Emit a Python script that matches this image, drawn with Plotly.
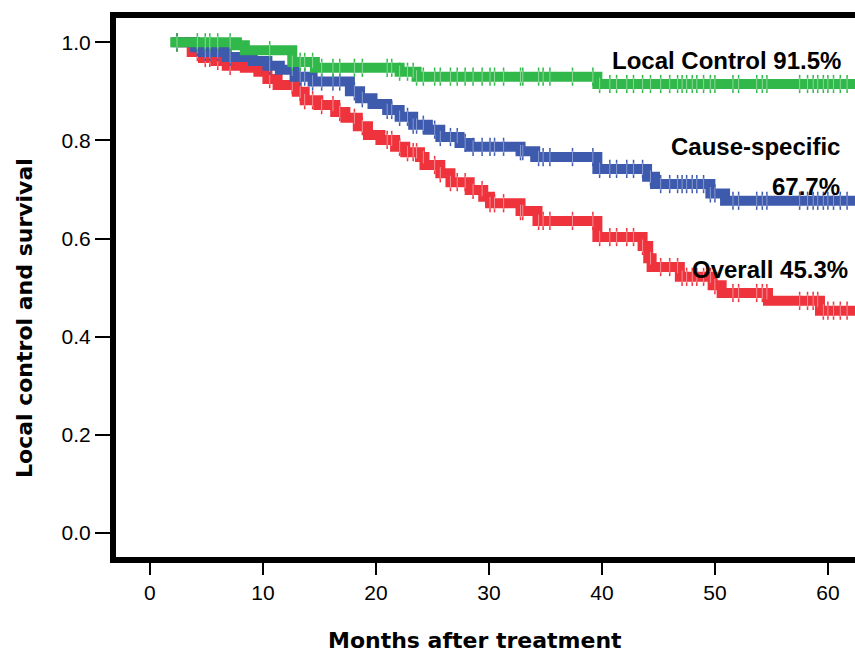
import numpy as np
import plotly.graph_objects as go

# ---- data (months, survival fraction) ----
lc_time = [1.8, 7.7, 8.4, 12.6, 14.6, 22.1, 23.6, 39.6, 63.0]
lc_surv = [1.0, 0.994, 0.984, 0.96, 0.948, 0.94, 0.93, 0.915, 0.915]

cs_time = [1.9, 4.0, 4.7, 6.8, 9.1, 10.4, 11.5, 12.8, 14.4, 17.7, 18.6, 19.7, 21.0,
           22.1, 23.3, 24.6, 25.7, 27.4, 28.3, 32.8, 34.1, 39.6, 44.0, 44.7, 49.6, 50.9, 63.0]
cs_surv = [1.0, 0.99, 0.98, 0.97, 0.962, 0.952, 0.944, 0.93, 0.92, 0.90, 0.886, 0.874, 0.862,
           0.848, 0.832, 0.822, 0.807, 0.795, 0.787, 0.778, 0.766, 0.742, 0.726, 0.711, 0.692, 0.677, 0.677]

os_time = [2.4, 3.7, 4.7, 5.8, 6.8, 8.4, 9.6, 10.4, 11.3, 13.0, 13.7, 14.9, 16.4, 17.3,
           18.4, 19.3, 20.4, 21.7, 22.6, 23.9, 24.3, 25.7, 26.6, 28.3, 29.5, 30.1, 32.8,
           34.3, 39.6, 43.6, 44.1, 44.4, 46.9, 49.8, 50.6, 54.7, 59.3, 63.0]
os_surv = [1.0, 0.98, 0.968, 0.962, 0.952, 0.948, 0.94, 0.925, 0.913, 0.899, 0.882, 0.872,
           0.858, 0.846, 0.829, 0.811, 0.801, 0.787, 0.776, 0.766, 0.75, 0.733, 0.715, 0.699,
           0.685, 0.672, 0.656, 0.636, 0.603, 0.585, 0.56, 0.542, 0.522, 0.505, 0.489, 0.473,
           0.453, 0.453]

censor_time = [2.4, 4.2, 4.9, 5.3, 6.0, 7.1, 10.6, 12.6, 13.3, 13.7, 14.4, 15.2, 16.2, 16.8,
               18.1, 18.8, 21.0, 21.4, 22.1, 22.8, 23.3, 23.6, 24.2, 25.2, 25.7, 26.6, 27.2,
               27.9, 28.6, 29.4, 30.1, 30.5, 31.3, 32.8, 33.0, 34.4, 34.8, 35.4, 37.4, 39.2,
               39.8, 40.7, 41.3, 42.2, 42.8, 43.6, 44.3, 45.2, 46.0, 46.7, 47.1, 47.5, 48.0,
               48.4, 49.0, 49.6, 50.0, 51.6, 52.1, 53.7, 54.2, 54.6, 57.5, 58.2, 58.7, 59.1,
               59.6, 60.0, 60.5, 61.1, 61.7]

labels = ["Overall", "Cause-specific", "Local Control"]
colors = ["#ee333d", "#3e5aad", "#30b84a"]
mark_colors = ["rgba(250,150,155,0.9)", "rgba(140,160,215,0.9)", "rgba(150,220,160,0.9)"]
x_ticks = [0, 10, 20, 30, 40, 50, 60]
y_ticks = [0.0, 0.2, 0.4, 0.6, 0.8, 1.0]
y_ticktext = ["0.0", "0.2", "0.4", "0.6", "0.8", "1.0"]

series = [(os_time, os_surv), (cs_time, cs_surv), (lc_time, lc_surv)]


def step_value(t, times, surv):
    idx = np.searchsorted(np.array(times), t, side="right") - 1
    return surv[max(idx, 0)]


fig = go.Figure()
for (times, surv), name, col, mcol in zip(series, labels, colors, mark_colors):
    ct = [c for c in censor_time if c >= times[0]]
    cy = [step_value(c, times, surv) for c in ct]
    # outer tips of the censor marks (series colour)
    fig.add_trace(go.Scatter(x=ct, y=cy, mode="markers",
                             marker=dict(symbol="line-ns", size=13,
                                         line=dict(color=col, width=1.5)),
                             showlegend=False, hoverinfo="skip"))
    fig.add_trace(go.Scatter(x=times, y=surv, mode="lines", line_shape="hv",
                             line=dict(color=col, width=10), name=name,
                             showlegend=False, hoverinfo="skip"))
    # pale inner part of the censor marks
    fig.add_trace(go.Scatter(x=ct, y=cy, mode="markers",
                             marker=dict(symbol="line-ns", size=9,
                                         line=dict(color=mcol, width=1)),
                             showlegend=False, hoverinfo="skip"))

ann_font = dict(family="Liberation Sans, Arial, sans-serif", size=24, color="black")
anns = [
    ("<b>Local Control 91.5%</b>", 61.35, 0.962),
    ("<b>Cause-specific</b>", 61.27, 0.787),
    ("<b>67.7%</b>", 61.27, 0.707),
    ("<b>Overall 45.3%</b>", 61.97, 0.536),
]
for txt, x, y in anns:
    fig.add_annotation(text=txt, x=x, y=y, xref="x", yref="y", xanchor="right",
                       yanchor="middle", showarrow=False, font=ann_font)

title_font = dict(family="DejaVu Sans, sans-serif", size=22, color="black")
fig.add_annotation(text="<b>Months after treatment</b>", xref="paper", yref="paper",
                   x=(475 - 116) / 739, y=-(640 - 557) / 539, xanchor="center",
                   yanchor="middle", showarrow=False, font=title_font)
fig.add_annotation(text="<b>Local control and survival</b>", xref="paper", yref="paper",
                   x=-(116 - 25) / 739, y=(557 - 318) / 539, xanchor="center",
                   yanchor="middle", showarrow=False, textangle=-90, font=title_font)

tick_font = dict(family="Liberation Sans, Arial, sans-serif", size=21, color="black")
fig.update_xaxes(range=[-3.0, 62.4], tickvals=x_ticks, ticks="outside", ticklen=12,
                 tickwidth=2, tickcolor="black", showline=True, linewidth=6,
                 linecolor="black", mirror=True, showgrid=False, zeroline=False,
                 tickfont=tick_font)
fig.update_yaxes(range=[-0.049, 1.0495], tickvals=y_ticks, ticktext=y_ticktext,
                 ticks="outside", ticklen=15, tickwidth=2, tickcolor="black",
                 showline=True, linewidth=6, linecolor="black", mirror=False,
                 showgrid=False, zeroline=False, tickfont=tick_font)

fig.update_layout(width=855, height=655, margin=dict(l=116, r=0, t=18, b=98),
                  plot_bgcolor="white", paper_bgcolor="white")

fig.write_html("out.html")
